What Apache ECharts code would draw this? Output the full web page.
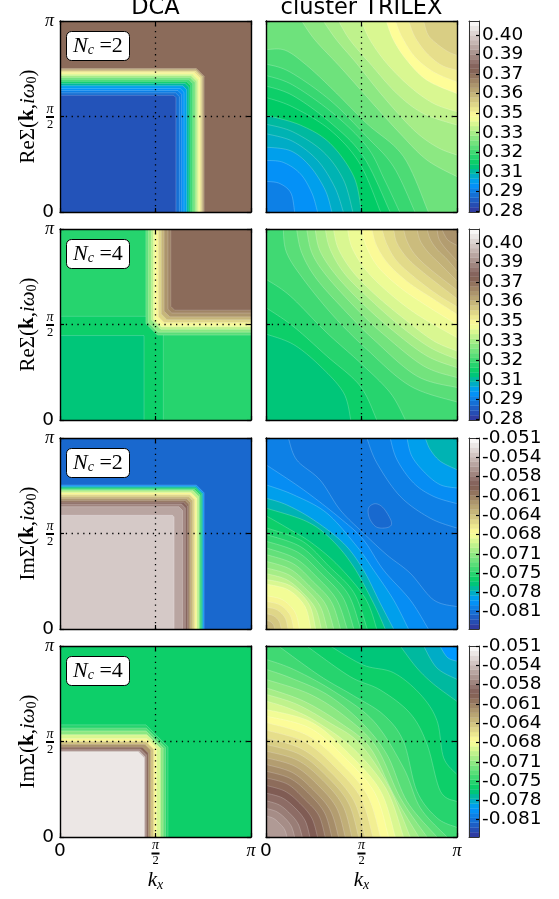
<!DOCTYPE html>
<html><head><meta charset="utf-8">
<style>html,body{margin:0;padding:0;background:#fff}#c{width:559px;height:899px}</style>
<script src="https://cdn.jsdelivr.net/npm/echarts@6/dist/echarts.min.js"></script>
</head><body><div id="c"></div>
<script>
// Terrain colour scale: stops of [fraction, r, g, b]
const terrainStops=[[0,51,51,153],[0.15,0,153,255],[0.25,0,204,102],[0.5,255,255,153],[0.75,128,92,84],[1,255,255,255]];
const bandCount=40;
// Colourbar scales
const reRange=[0.2793,0.4095];
const imRange=[-0.084,-0.051];
const reTickValues=[0.28,0.29333,0.30667,0.32,0.33333,0.34667,0.36,0.37333,0.38667,0.40];
const reTickLabels=['0.28','0.29','0.31','0.32','0.33','0.35','0.36','0.37','0.39','0.40'];
const imTickValues=[-0.051,-0.05433,-0.05767,-0.061,-0.06433,-0.06767,-0.071,-0.07433,-0.07767,-0.081];
const imTickLabels=['-0.051','-0.054','-0.058','-0.061','-0.064','-0.068','-0.071','-0.075','-0.078','-0.081'];
const piTicks=[0,0.5,1];
// k axes are in units of pi. DCA layers: [colour band, kx edge, ky edge, corner cut]
const dcaReN2Base=28.6;
const dcaReN2=[[26,.754,.751,.04],[24,.747,.745,.035],[21.5,.74,.738,.03],[20,.733,.731,.03],[18,.724,.722,.03],[16,.716,.714,.03],[14,.707,.703,.025],[12,.695,.692,.02],[10,.684,.682,.02],[8,.675,.673,.02],[6,.663,.661,.02],[5,.649,.647,.02],[4,.637,.636,.02],[3,.625,.624,.02],[1.4,.607,.611,.012]];
const dcaImN2Base=2.6;
const dcaImN2=[[5,.754,.753,.04],[8,.747,.745,.035],[11,.74,.738,.03],[14,.733,.731,.03],[17,.726,.724,.03],[20,.716,.714,.03],[22,.705,.703,.025],[24,.695,.692,.02],[26,.684,.682,.02],[28,.675,.673,.02],[30,.667,.664,.02],[32,.656,.654,.02],[34,.642,.64,.02],[36.2,.597,.595,.008]];
const dcaImN4Base=10;
const dcaImN4=[[11,.565,.587,.115],[13,.552,.57,.1],[15,.54,.555,.09],[18,.525,.535,.07],[20,.505,.515,.05],[23,.49,.50,.04],[26,.475,.485,.03],[29,.462,.47,.03],[32,.452,.46,.03],[35,.445,.45,.03],[38,.44,.445,.03]];
// DCA Nc=4 real part: inner rectangles, then the upper-right corner [band, kx edge, ky edge, corner cut]
const dcaReN4Base=11;
const dcaReN4Low=[[10,.541,.543,0],[9,.44,.442,0]];
const dcaReN4High=[[13,.45,.445,.06],[15,.462,.46,.05],[17,.478,.475,.05],[19,.49,.488,.04],[20,.5,.497,.04],[22,.515,.51,.03],[24,.53,.525,.03],[26,.545,.54,.03],[27,.565,.56,.02],[28.6,.58,.575,.02]];
// Contours: [colour band, [kx,ky]...]
const trilexReN2Base=4;
const trilexReN2=[
[5,[0,.16],[.07,.15],[.13,.10],[.15,0]],
[6,[0,.27],[.09,.26],[.18,.20],[.24,.10],[.27,0]],
[7,[0,.34],[.13,.32],[.23,.24],[.31,.115],[.345,0]],
[7.5,[0,.41],[.14,.37],[.27,.27],[.36,.13],[.405,0]],
[8,[0,.46],[.14,.42],[.30,.315],[.405,.17],[.455,0]],
[9.5,[0,.507],[.18,.455],[.335,.36],[.46,.185],[.50,0]],
[10,[0,.60],[.14,.55],[.335,.43],[.49,.255],[.60,0]],
[11,[0,.66],[.14,.61],[.335,.47],[.51,.29],[.65,0]],
[11.7,[0,.715],[.14,.665],[.353,.515],[.53,.34],[.62,.17],[.70,0]],
[12.5,[0,.775],[.126,.733],[.336,.585],[.528,.394],[.668,.237],[.78,0]],
[13.8,[0,.85],[.10,.847],[.213,.768],[.353,.638],[.528,.463],[.72,.29],[.85,0]],
[15,[.187,1],[.257,.90],[.388,.76],[.528,.603],[.703,.41],[.843,.272],[1,.185]],
[16,[.30,1],[.37,.90],[.475,.777],[.615,.603],[.773,.43],[.895,.34],[1,.298]],
[17,[.38,1],[.44,.90],[.545,.777],[.685,.62],[.825,.515],[1,.455]],
[18,[.50,1],[.545,.90],[.633,.777],[.755,.655],[.878,.568],[1,.525]],
[19.6,[.63,1],[.668,.90],[.738,.794],[.843,.69],[1,.62]],
[20.5,[.677,1],[.712,.916],[.78,.812],[.878,.733],[1,.68]],
[21.5,[.747,1],[.78,.916],[.843,.83],[.92,.768],[1,.742]],
[22.5,[.825,1],[.85,.925],[.904,.873],[.956,.838],[1,.82]]];
const trilexReN4Base=9;
const trilexReN4=[
[10,[0,.45],[.143,.396],[.283,.283],[.406,.143],[.444,0]],
[11,[0,.588],[.143,.49],[.318,.335],[.493,.178],[.58,0]],
[12,[0,.737],[.126,.65],[.318,.457],[.493,.30],[.65,.143],[.73,0]],
[13,[.09,1],[.108,.876],[.196,.737],[.353,.545],[.528,.37],[.755,.178],[1,.094]],
[14,[.16,1],[.187,.876],[.266,.737],[.423,.562],[.563,.422],[.79,.23],[1,.17]],
[15,[.213,1],[.24,.876],[.318,.754],[.476,.58],[.615,.449],[.825,.283],[1,.222]],
[16,[.257,1],[.283,.885],[.37,.754],[.51,.606],[.667,.466],[.843,.335],[1,.274]],
[17,[.31,1],[.336,.894],[.414,.763],[.554,.623],[.703,.492],[.86,.379],[1,.318]],
[18,[.353,1],[.38,.894],[.458,.772],[.58,.649],[.738,.518],[.878,.414],[1,.361]],
[18.8,[.427,1],[.45,.903],[.52,.789],[.633,.675],[.79,.553],[1,.431]],
[19.8,[.50,1],[.528,.903],[.59,.798],[.703,.693],[.843,.597],[1,.50]],
[20.8,[.554,1],[.58,.911],[.642,.815],[.747,.719],[.878,.632],[1,.553]],
[21.8,[.607,1],[.633,.92],[.685,.832],[.78,.745],[.895,.658],[1,.593]],
[22.8,[.668,1],[.685,.928],[.738,.85],[.825,.771],[1,.635]],
[23.6,[.72,1],[.738,.937],[.78,.866],[.86,.789],[1,.68]],
[24.3,[.79,1],[.808,.937],[.851,.876],[.913,.815],[1,.728]],
[25,[.843,1],[.86,.946],[.895,.894],[.948,.841],[1,.78]],
[25.5,[.895,1],[.905,.95],[.93,.91],[.965,.87],[1,.833]],
[26.2,[.92,1],[.95,.945],[1,.914]]];
const trilexImN2Base=3.5;
const trilexImN2=[
[4,[.528,1],[.58,.87],[.703,.694],[.86,.58],[1,.528]],
[4.8,[.65,1],[.686,.886],[.773,.764],[.878,.694],[1,.656]],
[6,[.738,1],[.764,.904],[.834,.816],[.913,.755],[1,.738]],
[7.5,[.834,1],[.86,.939],[.913,.878],[1,.834]],
[2.7,[.537,.633],[.572,.656],[.615,.633],[.656,.563],[.642,.533],[.58,.533],[.542,.58],[.537,.633]],
[4,[1,.117],[.878,.152],[.755,.292],[.633,.388],[.51,.502],[.388,.624],[.283,.78],[.161,.885],[.117,1]],
[4.8,[.85,0],[.755,.152],[.615,.309],[.51,.467],[.388,.58],[.196,.729],[0,.86]],
[6,[.746,0],[.668,.152],[.563,.309],[.476,.432],[.318,.607],[.143,.703],[0,.755]],
[7.5,[.668,0],[.598,.135],[.51,.309],[.406,.449],[.248,.572],[.108,.65],[0,.685]],
[9,[.624,0],[.563,.135],[.458,.327],[.344,.467],[.213,.563],[0,.633]],
[10,[.58,0],[.52,.16],[.38,.33],[.24,.45],[.11,.53],[0,.593]],
[10.7,[.53,0],[.46,.19],[.329,.329],[.19,.46],[0,.53]],
[11.6,[.495,0],[.432,.179],[.311,.311],[.179,.432],[0,.495]],
[12.5,[.46,0],[.402,.166],[.29,.29],[.166,.402],[0,.46]],
[13.4,[.425,0],[.37,.153],[.269,.269],[.153,.37],[0,.425]],
[14.3,[.39,0],[.342,.142],[.247,.247],[.142,.342],[0,.39]],
[15.2,[.355,0],[.312,.129],[.226,.226],[.129,.312],[0,.355]],
[16,[.32,0],[.284,.118],[.209,.209],[.118,.284],[0,.32]],
[17,[.29,0],[.259,.107],[.191,.191],[.107,.259],[0,.29]],
[18,[.26,0],[.225,.13],[.13,.225],[0,.26]],
[19,[.235,0],[.204,.118],[.118,.204],[0,.235]],
[20.2,[.175,0],[.152,.088],[.088,.152],[0,.175]],
[21,[.145,0],[.126,.073],[.073,.126],[0,.145]],
[22,[.115,0],[.1,.058],[.058,.1],[0,.115]],
[23,[.08,0],[.069,.04],[.04,.069],[0,.08]],
[24,[.045,0],[.039,.022],[.022,.039],[0,.045]]];
const trilexImN4Base=5.5;
const trilexImN4=[
[7,[1,.92],[.95,.94],[.91,1]],
[8,[1,.825],[.895,.885],[.825,1]],
[9,[1,.71],[.878,.80],[.79,.885],[.703,1]],
[10,[1,.327],[.93,.415],[.895,.61],[.808,.747],[.668,.86],[.51,.90],[.336,1]],
[11,[1,.185],[.913,.24],[.843,.486],[.755,.647],[.598,.77],[.44,.84],[.213,1]],
[12,[1,.05],[.895,.10],[.79,.24],[.72,.50],[.615,.64],[.458,.74],[.283,.843],[.065,1]],
[13,[.948,0],[.808,.152],[.72,.362],[.563,.607],[.353,.764],[.143,.878],[0,.93]],
[14,[.895,0],[.738,.187],[.633,.432],[.493,.607],[.318,.747],[.126,.834],[0,.878]],
[15,[.843,0],[.703,.205],[.58,.467],[.423,.624],[.231,.747],[0,.825]],
[16,[.80,0],[.668,.222],[.545,.467],[.388,.598],[.196,.712],[0,.781]],
[17,[.755,0],[.642,.265],[.49,.49],[.33,.60],[.161,.695],[0,.747]],
[18,[.72,0],[.63,.25],[.46,.46],[.27,.60],[.13,.67],[0,.712]],
[19,[.677,0],[.60,.24],[.435,.435],[.24,.60],[0,.668]],
[19.7,[.642,0],[.57,.23],[.414,.414],[.23,.57],[0,.633]],
[20.5,[.60,0],[.531,.219],[.389,.389],[.219,.531],[0,.60]],
[21.5,[.56,0],[.497,.204],[.364,.364],[.204,.497],[0,.56]],
[22.5,[.52,0],[.46,.19],[.339,.339],[.19,.46],[0,.52]],
[23.5,[.485,0],[.432,.178],[.318,.318],[.178,.432],[0,.485]],
[24.5,[.45,0],[.402,.165],[.297,.297],[.165,.402],[0,.45]],
[25.5,[.415,0],[.37,.152],[.272,.272],[.152,.37],[0,.415]],
[26.5,[.38,0],[.337,.139],[.247,.247],[.139,.337],[0,.38]],
[27.5,[.345,0],[.307,.126],[.226,.226],[.126,.307],[0,.345]],
[28.5,[.31,0],[.276,.114],[.20,.20],[.114,.276],[0,.31]],
[29.5,[.27,0],[.24,.099],[.177,.177],[.099,.24],[0,.27]],
[30.5,[.23,0],[.205,.085],[.152,.152],[.085,.205],[0,.23]],
[31.5,[.19,0],[.168,.069],[.124,.124],[.069,.168],[0,.19]],
[32.5,[.15,0],[.133,.055],[.099,.099],[.055,.133],[0,.15]],
[33.3,[.11,0],[.097,.04],[.071,.071],[.04,.097],[0,.11]]];

function lowCorner(b){const [band,x,y,c]=b;return {band,pts:c?[[x,0],[x,y-c],[x-c,y],[0,y]]:[[x,0],[x,y],[0,y]],curved:false};}
function highCorner(b){const [band,x,y,c]=b;return {band,pts:[[x,1],[x,y+c],[x+c,y],[1,y]],curved:false};}
function contour(c){return {band:c[0],pts:c.slice(1),curved:true};}
const panels=[
 {col:0,row:0,base:dcaReN2Base,layers:dcaReN2.map(lowCorner)},
 {col:1,row:0,base:trilexReN2Base,layers:trilexReN2.map(contour)},
 {col:0,row:1,base:dcaReN4Base,layers:dcaReN4Low.map(lowCorner).concat(dcaReN4High.map(highCorner))},
 {col:1,row:1,base:trilexReN4Base,layers:trilexReN4.map(contour)},
 {col:0,row:2,base:dcaImN2Base,layers:dcaImN2.map(lowCorner)},
 {col:1,row:2,base:trilexImN2Base,layers:trilexImN2.map(contour)},
 {col:0,row:3,base:dcaImN4Base,layers:dcaImN4.map(lowCorner)},
 {col:1,row:3,base:trilexImN4Base,layers:trilexImN4.map(contour)}
];
const rowLabels=['Re','Re','Im','Im'];
const clusterSizes=['2','4','2','4'];
const columnTitles=['DCA','cluster TRILEX'];
// Layout
const rowTops=[21,229,438,646],colLefts=[60,266],side=191,barLeft=469,barWidth=10;
const SERIF='"Liberation Serif","DejaVu Serif",serif',SANS='"DejaVu Sans",sans-serif';

function bandColor(band){
  const t=Math.min(1,Math.max(0,(band+.5)/bandCount));
  for(let i=1;i<terrainStops.length;i++){
    const a=terrainStops[i-1],b=terrainStops[i];
    if(t<=b[0]){const s=(t-a[0])/(b[0]-a[0]);
      return 'rgb('+[1,2,3].map(j=>Math.round(a[j]+(b[j]-a[j])*s)).join(',')+')';}
  }
  return '#fff';
}
function spline(p){
  const out=[];const n=p.length;const closed=p[0][0]===p[n-1][0]&&p[0][1]===p[n-1][1];
  const g=i=>closed?p[((i%(n-1))+(n-1))%(n-1)]:p[Math.max(0,Math.min(n-1,i))];
  for(let i=0;i<n-1;i++){
    const a=g(i-1),b=g(i),c=g(i+1),d=g(i+2);
    for(let k=0;k<10;k++){const t=k/10,t2=t*t,t3=t2*t;
      out.push([0,1].map(j=>Math.min(1,Math.max(0,.5*(2*b[j]+(c[j]-a[j])*t+(2*a[j]-5*b[j]+4*c[j]-d[j])*t2+(3*b[j]-a[j]-3*c[j]+d[j])*t3)))));
    }
  }
  out.push(p[n-1]);return out;
}
function perim(q){const [x,y]=q;
  if(y===0)return x; if(x===1)return 1+y; if(y===1)return 3-x; return 4-y;}
const cornerAt=[[0,0],[1,0],[1,1],[0,1]];
function closure(pts){
  const a=pts[0],e=pts[pts.length-1];
  if(a[0]===e[0]&&a[1]===e[1])return [];
  const se=perim(e);let st=perim(a);if(st<=se)st+=4;
  const out=[];for(let c=1;c<=8;c++)if(c>se&&c<st)out.push(cornerAt[c%4]);
  return out;
}
function contourSeries(p,idx){
  const items=[{band:p.base,pts:[[0,0],[1,0],[1,1],[0,1],[0,0]],curved:false,isBase:true}].concat(p.layers);
  return {type:'custom',xAxisIndex:idx*2,yAxisIndex:idx*2,clip:true,silent:true,z:2,animation:false,
    data:items.map(l=>[l.band]),
    renderItem(params,api){
      const l=items[params.dataIndex];
      const line=l.curved?spline(l.pts):l.pts;
      const poly=line.concat(closure(l.pts)).map(q=>api.coord(q));
      const kids=[{type:'polygon',shape:{points:poly},style:{fill:bandColor(l.band),stroke:bandColor(l.band),lineWidth:.3}}];
      if(!l.isBase)kids.push({type:'polyline',shape:{points:line.map(q=>api.coord(q))},style:{fill:null,stroke:'rgba(255,255,255,0.3)',lineWidth:.7}});
      return {type:'group',children:kids};
    }};
}
function fraction(v){
  if(v===0)return '{z|0}'; if(v===1)return '{p|π}'; return '{p2|π}\n{bar| }\n{d|2}';
}
const tickRich={z:{fontFamily:SANS,fontSize:18.5,color:'#000',lineHeight:24},
  p:{fontFamily:SERIF,fontStyle:'italic',fontSize:18,color:'#000',lineHeight:24},
  p2:{fontFamily:SERIF,fontStyle:'italic',fontSize:14,color:'#000',lineHeight:13,align:'center'},
  bar:{width:8,height:2,lineHeight:3,fontSize:1,backgroundColor:'#000',align:'center'},
  d:{fontFamily:SERIF,fontSize:12.5,color:'#000',lineHeight:12,align:'center'}};
const edge={show:true,onZero:false,lineStyle:{color:'#000',width:1.4}};
const inTick={show:true,inside:true,length:4,customValues:piTicks,lineStyle:{color:'#000',width:1.2}};
const grid=[],xAxis=[],yAxis=[],series=[],title=[];
panels.forEach((p,i)=>{
  const top=rowTops[p.row],left=colLefts[p.col];
  grid.push({left,top,width:side,height:side});
  const bottomRow=p.row===3,leftCol=p.col===0;
  const g2=grid.length-1;
  xAxis.push({gridIndex:g2,type:'value',min:0,max:1,position:'bottom',z:10,axisLine:edge,axisTick:inTick,splitLine:{show:false},
    axisLabel:{show:bottomRow,customValues:piTicks,margin:2,formatter:fraction,rich:tickRich,hideOverlap:false},
    name:bottomRow?'{k|k}{x|x}':'',nameLocation:'middle',nameGap:31,nameTextStyle:{rich:{k:{fontFamily:SERIF,fontStyle:'italic',fontSize:21,color:'#000'},x:{fontFamily:SERIF,fontStyle:'italic',fontSize:14,color:'#000',padding:[10,0,0,0]}}}});
  xAxis.push({gridIndex:g2,type:'value',min:0,max:1,position:'top',z:10,axisLine:edge,axisTick:inTick,axisLabel:{show:false},splitLine:{show:false}});
  yAxis.push({gridIndex:g2,type:'value',min:0,max:1,position:'left',z:10,axisLine:edge,axisTick:inTick,splitLine:{show:false},
    axisLabel:{show:leftCol,customValues:piTicks,margin:6,formatter:fraction,rich:tickRich,hideOverlap:false},
    name:leftCol?'{r|'+rowLabels[p.row]+'Σ(}{b|k}{r|,}{i|iω}{s|0}{r|)}':'',nameLocation:'middle',nameRotate:90,nameGap:21,nameMoveOverlap:false,
    nameTextStyle:{rich:{r:{fontFamily:SERIF,fontSize:21,color:'#000'},b:{fontFamily:SERIF,fontWeight:'bold',fontSize:21,color:'#000'},i:{fontFamily:SERIF,fontStyle:'italic',fontSize:21,color:'#000'},s:{fontFamily:SERIF,fontSize:14,color:'#000',padding:[8,0,0,0]}}}});
  yAxis.push({gridIndex:g2,type:'value',min:0,max:1,position:'right',z:10,axisLine:edge,axisTick:inTick,axisLabel:{show:false},splitLine:{show:false}});
  series.push(contourSeries(p,i));
  const dots={type:'line',xAxisIndex:i*2,yAxisIndex:i*2,symbol:'none',silent:true,z:5,animation:false,lineStyle:{color:'#000',width:1.3,type:[1.3,4.5]}};
  series.push(Object.assign({data:[[.5,0],[.5,1]]},dots));
  series.push(Object.assign({data:[[0,.5],[1,.5]]},dots));
  if(leftCol)title.push({text:'{n|N}{c|c}{e| ='+clusterSizes[p.row]+'}',left:66,top:top+9,z:8,backgroundColor:'#fff',borderColor:'#000',borderWidth:1,borderRadius:5,padding:[4,7,4,7],
    textStyle:{fontWeight:'normal',rich:{n:{fontFamily:SERIF,fontStyle:'italic',fontWeight:'normal',fontSize:22,color:'#000',lineHeight:24},c:{fontFamily:SERIF,fontStyle:'italic',fontWeight:'normal',fontSize:14,color:'#000',padding:[8,0,0,0]},e:{fontFamily:SERIF,fontWeight:'normal',fontSize:22,color:'#000',lineHeight:24}}}});
});
// Colourbars
rowTops.forEach((top,r)=>{
  const isRe=r<2,range=isRe?reRange:imRange,vals=isRe?reTickValues:imTickValues,labs=isRe?reTickLabels:imTickLabels;
  const ax=grid.length;
  grid.push({left:barLeft,top,width:barWidth,height:side});
  xAxis.push({gridIndex:ax,type:'value',min:0,max:1,show:false});
  yAxis.push({gridIndex:ax,type:'value',min:range[0],max:range[1],position:'right',z:10,splitLine:{show:false},
    axisLine:{show:true,onZero:false,lineStyle:{color:'#333',width:1}},
    axisTick:{show:true,inside:true,length:3,customValues:vals,lineStyle:{color:'#000',width:1.2}},
    axisLabel:{customValues:vals,margin:3,hideOverlap:false,fontFamily:SANS,fontSize:18.5,color:'#000',
      formatter:v=>{let b=0;vals.forEach((w,j)=>{if(Math.abs(w-v)<Math.abs(vals[b]-v))b=j;});return labs[b];}}});
  const bands=[];for(let i=0;i<bandCount;i++)bands.push([i]);
  series.push({type:'custom',xAxisIndex:xAxis.length-1,yAxisIndex:yAxis.length-1,silent:true,z:2,animation:false,data:bands,
    renderItem(params,api){
      const i=api.value(0),span=range[1]-range[0];
      const a=api.coord([0,range[0]+span*i/bandCount]),b=api.coord([1,range[0]+span*(i+1)/bandCount]);
      return {type:'rect',shape:{x:a[0],y:b[1],width:b[0]-a[0],height:a[1]-b[1]},style:{fill:bandColor(i),stroke:bandColor(i),lineWidth:.3}};
    }});
  // matching edges of the bar
  xAxis.push({gridIndex:ax,type:'value',min:0,max:1,position:'top',z:10,axisLine:{show:true,onZero:false,lineStyle:{color:'#333',width:1}},axisTick:{show:false},axisLabel:{show:false},splitLine:{show:false}});
  xAxis.push({gridIndex:ax,type:'value',min:0,max:1,position:'bottom',z:10,axisLine:{show:true,onZero:false,lineStyle:{color:'#333',width:1}},axisTick:{show:false},axisLabel:{show:false},splitLine:{show:false}});
  yAxis.push({gridIndex:ax,type:'value',min:0,max:1,position:'left',z:10,axisLine:{show:true,onZero:false,lineStyle:{color:'#333',width:1}},axisTick:{show:false},axisLabel:{show:false},splitLine:{show:false}});
});
columnTitles.forEach((t,i)=>title.push({text:t,left:colLefts[i]+side/2,top:-3,padding:0,textAlign:'center',textStyle:{fontFamily:SANS,fontSize:22.5,fontWeight:'normal',color:'#000'}}));
const chart=echarts.init(document.getElementById('c'),null,{renderer:'canvas'});
chart.setOption({animation:false,backgroundColor:'#fff',title,grid,xAxis,yAxis,series});
</script></body></html>
